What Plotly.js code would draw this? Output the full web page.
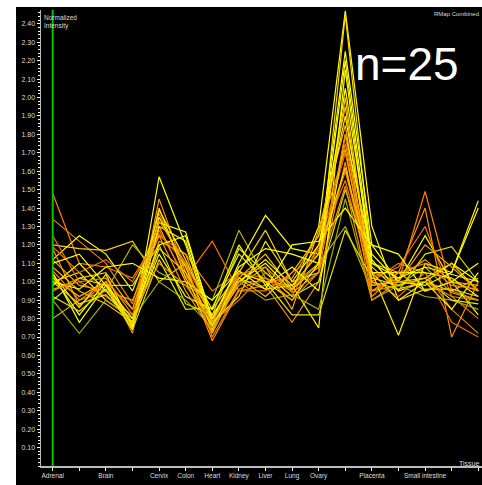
<!DOCTYPE html>
<html>
<head>
<meta charset="utf-8">
<script src="https://cdn.plot.ly/plotly-3.0.1.min.js"></script>
<style>
  html, body { margin: 0; padding: 0; background: #ffffff; }
  #chart { width: 482px; height: 485px; }
</style>
</head>
<body>
<div id="chart"></div>
<script>
// Tissue positions along the x axis (17 slots; some labels are not shown)
const tissueLabels = ["Adrenal", "", "Brain", "", "Cervix", "Colon", "Heart", "Kidney",
  "Liver", "Lung", "Ovary", "", "Placenta", "", "Small intestine", "", "Thymus"];

// Normalized intensity profiles, one per probe (25 probes)
const p01 = [1.48, 1.10, 1.08, 1.02, 1.25, 1.15, 0.95, 1.05, 1.00, 0.98, 1.10, 1.75, 1.05, 1.00, 1.49, 0.95, 0.90];
const p02 = [1.34, 1.22, 1.10, 0.88, 1.37, 1.05, 0.78, 0.90, 1.05, 0.92, 1.20, 1.55, 1.00, 1.10, 1.05, 0.85, 0.72];
const p03 = [1.05, 0.78, 0.98, 0.74, 1.57, 1.20, 0.76, 1.00, 1.10, 0.95, 1.30, 2.47, 1.30, 0.90, 1.00, 1.10, 1.00];
const p04 = [1.20, 1.18, 1.17, 1.22, 1.00, 1.10, 0.85, 1.05, 1.28, 1.00, 1.05, 2.45, 1.10, 1.05, 0.95, 1.00, 0.95];
const p05 = [0.80, 0.90, 0.95, 1.20, 1.05, 0.98, 0.90, 1.28, 1.02, 0.96, 1.10, 1.30, 0.95, 0.98, 1.08, 0.94, 0.90];
const p06 = [1.12, 1.25, 1.15, 0.95, 1.32, 1.27, 0.78, 1.10, 1.36, 1.18, 1.15, 2.25, 1.20, 1.00, 1.25, 1.00, 0.82];
const p07 = [1.18, 0.87, 1.00, 0.72, 1.45, 1.05, 0.68, 0.95, 0.98, 0.78, 1.00, 1.65, 0.92, 1.05, 1.40, 0.70, 1.00];
const p08 = [1.00, 1.05, 0.90, 0.80, 1.39, 1.12, 0.80, 1.00, 1.12, 0.98, 0.75, 2.15, 1.05, 0.71, 1.10, 1.05, 1.44];
const p09 = [0.95, 1.02, 1.05, 0.85, 1.30, 1.00, 0.72, 1.02, 0.92, 1.05, 1.25, 1.95, 0.98, 1.00, 1.02, 1.10, 0.95];
const p10 = [0.90, 1.02, 0.98, 0.98, 1.20, 0.88, 0.82, 1.18, 1.05, 0.92, 1.00, 1.50, 1.08, 0.95, 1.15, 1.19, 1.00];
const p11 = [1.25, 1.00, 0.92, 0.82, 1.28, 1.02, 1.22, 0.95, 0.95, 1.05, 1.15, 1.60, 1.02, 1.08, 1.30, 0.92, 0.80];
const p12 = [1.03, 0.82, 1.00, 0.76, 1.35, 1.08, 0.74, 1.05, 1.00, 0.90, 1.10, 2.05, 1.12, 0.95, 1.00, 0.85, 1.05];
const p13 = [1.08, 0.95, 0.88, 0.78, 1.22, 1.15, 0.77, 0.98, 1.08, 0.85, 1.28, 1.85, 0.95, 1.02, 1.12, 1.00, 0.98];
const p14 = [1.19, 1.05, 1.12, 1.00, 1.26, 1.10, 0.80, 1.05, 1.02, 0.95, 1.18, 1.70, 1.00, 0.92, 1.05, 0.78, 0.70];
const p15 = [0.98, 1.10, 0.95, 0.78, 1.15, 0.92, 0.85, 1.20, 0.98, 1.08, 0.95, 1.80, 1.15, 1.00, 0.98, 1.05, 1.40];
const p16 = [0.90, 0.72, 0.90, 0.80, 1.00, 0.90, 0.75, 1.00, 0.90, 0.93, 0.85, 1.45, 0.90, 0.98, 0.92, 0.90, 0.85];
const p17 = [1.04, 0.86, 1.04, 0.75, 1.30, 1.22, 0.78, 0.92, 1.22, 1.00, 1.20, 1.90, 1.05, 1.05, 1.05, 1.02, 0.92];
const p18 = [1.02, 0.92, 1.00, 0.77, 1.18, 1.05, 0.82, 1.02, 1.15, 0.96, 1.08, 2.00, 1.00, 0.96, 1.00, 0.95, 1.02];
const p19 = [1.12, 0.98, 0.95, 0.90, 1.25, 0.95, 0.73, 1.00, 1.00, 1.02, 1.25, 1.72, 0.98, 1.00, 1.20, 1.08, 0.95];
const p20 = [1.00, 0.96, 1.08, 1.10, 1.02, 1.00, 0.90, 1.06, 0.96, 1.20, 1.22, 1.40, 1.20, 1.15, 0.95, 1.00, 1.10];
const p21 = [0.92, 0.84, 0.96, 0.74, 1.12, 0.85, 0.86, 1.15, 1.00, 0.82, 0.82, 1.28, 1.02, 0.98, 1.02, 0.90, 0.88];
const p22 = [1.06, 0.90, 1.00, 0.85, 1.33, 1.10, 0.70, 0.96, 1.02, 0.90, 1.05, 1.80, 0.95, 1.05, 1.10, 0.98, 0.96];
const p23 = [1.10, 1.15, 0.98, 0.80, 1.20, 1.25, 0.80, 1.08, 1.18, 1.15, 1.10, 2.20, 1.10, 1.02, 1.08, 1.04, 1.00];
const p24 = [1.00, 0.88, 0.93, 0.78, 1.40, 1.02, 0.76, 1.02, 0.96, 0.98, 1.15, 1.62, 1.05, 0.90, 0.96, 0.96, 0.92];
const p25 = [0.96, 1.00, 1.02, 0.82, 1.10, 0.98, 0.78, 1.04, 1.08, 0.94, 1.05, 1.52, 0.90, 1.00, 1.00, 0.92, 0.90];

const profiles = [p01, p02, p03, p04, p05, p06, p07, p08, p09, p10, p11, p12, p13,
  p14, p15, p16, p17, p18, p19, p20, p21, p22, p23, p24, p25];

// Line colours, from olive through yellow to orange
const lineColors = ["#ff8000", "#f08000", "#ffff00", "#ffd000", "#b8b800", "#ffff00", "#ff9000",
  "#ffee00", "#ffc000", "#d8e000", "#ff7000", "#ffff00", "#ffb000", "#e87000", "#ffff00",
  "#a8a800", "#fff000", "#ffc800", "#ffa000", "#ffff00", "#e0e800", "#ff8800", "#ffff00",
  "#ffd800", "#f09000"];

// Y axis tick values 0.10 .. 2.40
const yTicks = [];
for (let k = 1; k <= 24; k++) yTicks.push(k / 10);

const xIdx = tissueLabels.map((_, i) => i);

const traces = profiles.map((vals, i) => ({
  type: "scatter",
  mode: "lines",
  x: xIdx,
  y: vals,
  line: { color: lineColors[i], width: 1.2 },
  hoverinfo: "skip",
  showlegend: false
}));

// Plot area geometry in pixels
const L = 41, T = 10, W = 441, H = 456;
const px = v => (v - L) / W;
const py = v => (T + H - v) / H;

const axisFont = { family: "Liberation Sans, Arial, sans-serif", size: 6.5, color: "#dddddd" };

const layout = {
  width: 482,
  height: 485,
  margin: { l: L, r: 0, t: T, b: 485 - T - H, pad: 0 },
  paper_bgcolor: "#ffffff",
  plot_bgcolor: "#000000",
  showlegend: false,
  xaxis: {
    range: [-0.44, 16.14],
    tickmode: "array",
    tickvals: xIdx,
    ticktext: tissueLabels,
    ticks: "outside",
    ticklen: 3,
    tickwidth: 1,
    tickcolor: "#ffffff",
    showgrid: false,
    zeroline: false,
    showline: true,
    linecolor: "#bbbbbb",
    linewidth: 1.5,
    tickangle: 0,
    tickfont: axisFont
  },
  yaxis: {
    range: [0, 2.475],
    tickmode: "array",
    tickvals: yTicks,
    ticktext: yTicks.map(v => v.toFixed(2)),
    ticks: "outside",
    ticklen: 3,
    tickwidth: 1,
    tickcolor: "#ffffff",
    minor: { dtick: 0.02, tick0: 0, ticks: "outside", ticklen: 2, tickcolor: "#ffffff", tickwidth: 1, showgrid: false },
    showgrid: false,
    zeroline: false,
    showline: true,
    linecolor: "#bbbbbb",
    linewidth: 1.5,
    tickfont: { family: "Liberation Sans, Arial, sans-serif", size: 7, color: "#dddddd" }
  },
  shapes: [
    // dark panel behind the whole chart area
    { type: "rect", xref: "paper", yref: "paper", layer: "below",
      x0: px(16), x1: px(482), y0: py(485), y1: py(7),
      fillcolor: "#000000", line: { width: 0 } },
    // highlighted reference tissue
    { type: "line", xref: "x", yref: "paper", layer: "above",
      x0: 0, x1: 0, y0: 0, y1: 1,
      line: { color: "#00c800", width: 2 } }
  ],
  annotations: [
    { xref: "paper", yref: "paper", x: px(42), y: py(12), xanchor: "left", yanchor: "top",
      text: "Normalized<br>Intensity", showarrow: false, align: "left",
      font: { family: "Liberation Sans, Arial, sans-serif", size: 6.5, color: "#dddddd" } },
    { xref: "paper", yref: "paper", x: px(481), y: py(9), xanchor: "right", yanchor: "top",
      text: "RMap Combined", showarrow: false,
      font: { family: "Liberation Sans, Arial, sans-serif", size: 6, color: "#dddddd" } },
    { xref: "paper", yref: "paper", x: px(481), y: py(458), xanchor: "right", yanchor: "top",
      text: "Tissue", showarrow: false,
      font: { family: "Liberation Sans, Arial, sans-serif", size: 7, color: "#dddddd" } },
    { xref: "paper", yref: "paper", x: px(407), y: py(64), xanchor: "center", yanchor: "middle",
      text: "n=25", showarrow: false,
      font: { family: "Liberation Sans, Arial, sans-serif", size: 46, color: "#ffffff" } }
  ]
};

Plotly.newPlot("chart", traces, layout, { staticPlot: true, displayModeBar: false });
</script>
</body>
</html>
